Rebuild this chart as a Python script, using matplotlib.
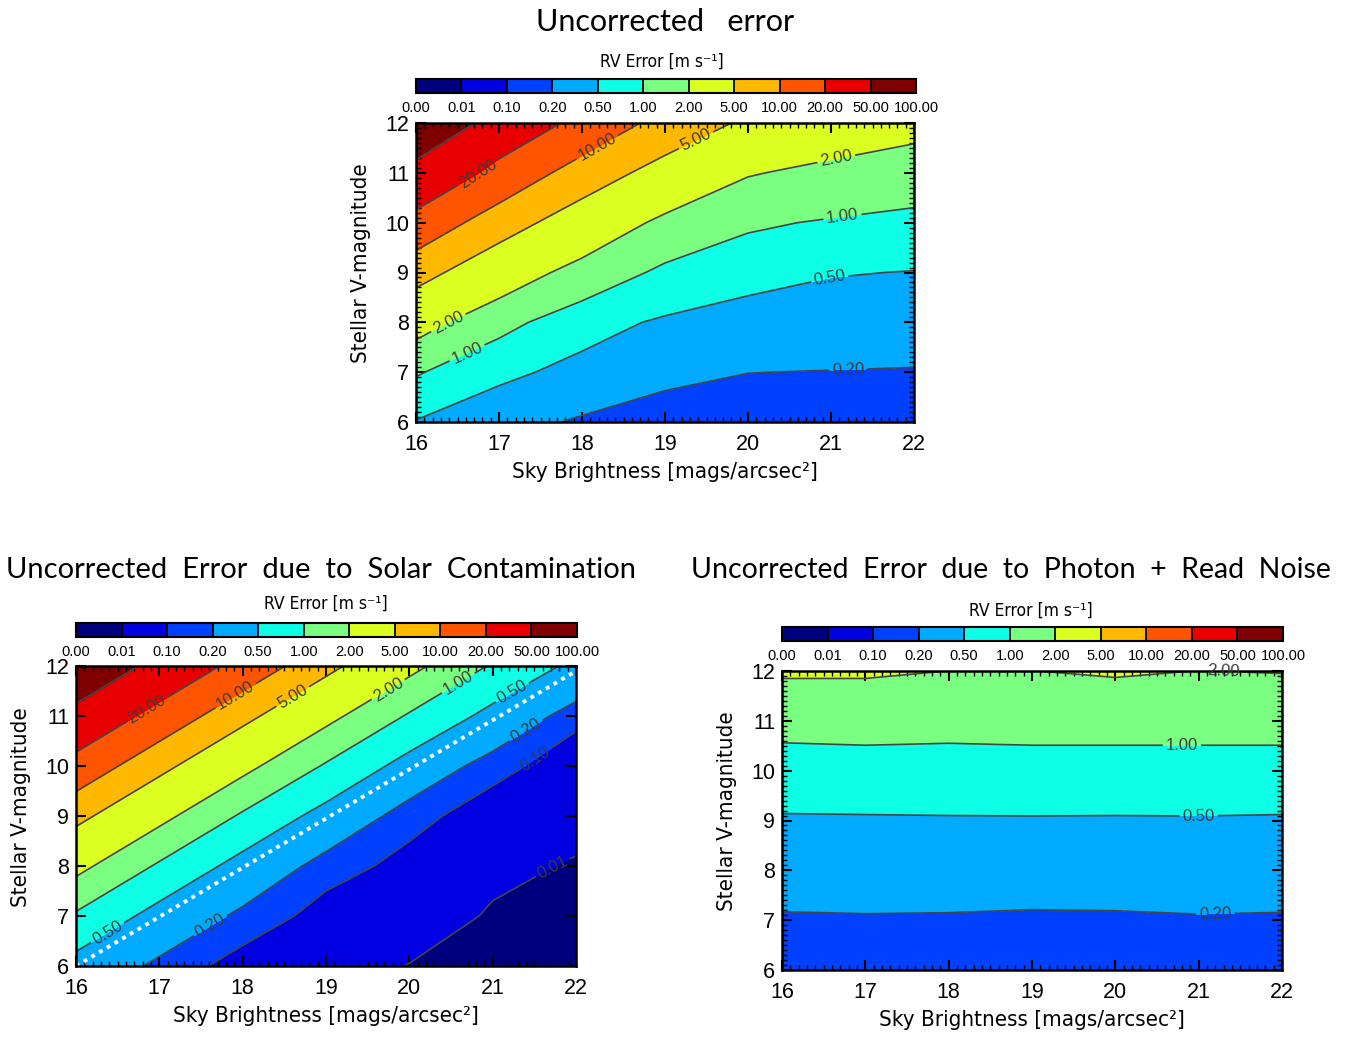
import matplotlib
matplotlib.use('Agg')
import matplotlib.pyplot as plt
from matplotlib.ticker import MultipleLocator

W, H = 1346, 1040

sky = [16, 17, 18, 19, 20, 21, 22]
vmag = [6, 7, 8, 9, 10, 11, 12]

# lignes = magnitude V 6..12, colonnes = fond de ciel 16..22
err_total = [
    [0.477, 0.29, 0.17, 0.115, 0.113, 0.12, 0.117],
    [1.052, 0.578, 0.40, 0.25, 0.202, 0.195, 0.189],
    [2.51, 1.199, 0.638, 0.447, 0.363, 0.318, 0.304],
    [6.12, 2.868, 1.48, 0.853, 0.62, 0.521, 0.488],
    [14.94, 6.48, 3.273, 1.625, 1.10, 0.932, 0.81],
    [34.4, 15.51, 6.871, 3.71, 2.08, 1.70, 1.441],
    [94.4, 31.5, 16.07, 7.4, 4.4, 2.85, 2.4],
]

err_solar = [
    [0.349, 0.165, 0.055, 0.024, 0.009, 0.0026, 0.0012],
    [0.871, 0.349, 0.165, 0.06, 0.028, 0.0065, 0.0029],
    [2.30, 0.871, 0.349, 0.14, 0.071, 0.018, 0.00725],
    [5.72, 2.30, 0.871, 0.349, 0.13, 0.0547, 0.021],
    [14.45, 5.72, 2.30, 0.9, 0.34, 0.13, 0.053],
    [34.6, 14.45, 5.72, 2.3, 0.9, 0.37, 0.121],
    [96.2, 34.6, 14.45, 5.72, 2.3, 0.9, 0.394],
]

err_photon = [
    [0.12, 0.118, 0.121, 0.119, 0.12, 0.122, 0.12],
    [0.1775, 0.1836, 0.1806, 0.1708, 0.1742, 0.185, 0.1794],
    [0.31, 0.31, 0.31, 0.31, 0.31, 0.31, 0.31],
    [0.454, 0.462, 0.469, 0.472, 0.469, 0.472, 0.462],
    [0.78, 0.78, 0.78, 0.78, 0.78, 0.78, 0.78],
    [1.173, 1.211, 1.18, 1.211, 1.211, 1.211, 1.211],
    [2.146, 2.139, 1.995, 1.99, 2.118, 1.99, 2.042],
]

# ligne pointillee blanche du panneau "solar"
ref_sky = [16, 22]
ref_vmag = [6.0, 11.9]

levels = [0.0, 0.01, 0.1, 0.2, 0.5, 1.0, 2.0, 5.0, 10.0, 20.0, 50.0, 100.0]
colors = ['#00007F', '#0000E0', '#0040FF', '#00AAFF', '#0DFFE6', '#7AFF80',
          '#DAFF20', '#FFB800', '#FF5500', '#E80000', '#7F0000']
line_levels = levels[1:-1]

NARROW = dict(family=['DejaVu Sans'], fontstretch='condensed')
TITLE = ['Lato', 'DejaVu Sans']
plt.rcParams['font.family'] = ['Liberation Sans', 'DejaVu Sans']


def px_rect(left, top, right, bottom):
    return [left / W, 1 - bottom / H, (right - left) / W, (bottom - top) / H]


def panneau(fig, ax_px, cb_px, z, titre, titre_xy, titre_size, rv_xy, labels,
            minor_y=True):
    ax = fig.add_axes(px_rect(*ax_px))
    cf = ax.contourf(sky, vmag, z, levels=levels, colors=colors)
    cs = ax.contour(sky, vmag, z, levels=line_levels, colors='#454545', linewidths=1.2)
    txts = ax.clabel(cs, fmt='%.2f', manual=labels, inline=True, fontsize=12,
                     colors='#3c3c3c', inline_spacing=3)
    for t in txts:
        t.set_clip_on(False)

    ax.set_xlim(16, 22)
    ax.set_ylim(6, 12)
    ax.xaxis.set_major_locator(MultipleLocator(1))
    ax.yaxis.set_major_locator(MultipleLocator(1))
    ax.xaxis.set_minor_locator(MultipleLocator(0.1))
    if minor_y:
        ax.yaxis.set_minor_locator(MultipleLocator(0.1))
    ax.tick_params(which='both', direction='in', top=True, right=True)
    ax.tick_params(which='major', length=7, width=1.5, labelsize=15.5)
    ax.tick_params(which='minor', length=3.5, width=1)
    ax.tick_params(axis='x', which='major', pad=9)
    ax.tick_params(axis='y', which='major', pad=5)
    for sp in ax.spines.values():
        sp.set_linewidth(1.8)
    ax.set_xlabel('Sky Brightness [mags/arcsec²]', fontsize=16, labelpad=5, **NARROW)
    ax.set_ylabel('Stellar V-magnitude', fontsize=16, labelpad=7, **NARROW)
    ax.yaxis.set_label_coords(-0.09, 0.53)

    cax = fig.add_axes(px_rect(*cb_px))
    cb = fig.colorbar(cf, cax=cax, orientation='horizontal', ticks=levels, drawedges=True)
    cb.ax.set_xticklabels(['%.2f' % v for v in levels])
    cb.ax.tick_params(length=0, pad=6, labelsize=10.5)
    cb.outline.set_linewidth(1.5)
    cb.dividers.set_linewidth(1.3)
    cb.dividers.set_color('black')

    fig.text(titre_xy[0] / W, 1 - titre_xy[1] / H, titre, family=TITLE,
             fontsize=titre_size, ha='center', va='center')
    fig.text(rv_xy[0] / W, 1 - rv_xy[1] / H, 'RV Error [m s⁻¹]',
             fontsize=12.5, ha='center', va='center', **NARROW)
    return ax


fig = plt.figure(figsize=(W / 100, H / 100), dpi=100)

panneau(fig, (416, 123, 914, 422), (416, 79, 916, 93), err_total,
        'Uncorrected   error', (665, 22), 22, (662, 62),
        [(16.73, 11.03), (18.18, 11.53), (19.34, 11.77), (16.37, 8.05),
         (16.59, 7.48), (21.05, 11.4), (21.13, 10.23), (20.97, 8.99), (21.21, 7.11)])

ax2 = panneau(fig, (76, 666, 576, 966), (76, 623, 577, 637), err_solar,
              'Uncorrected  Error  due  to  Solar  Contamination', (321, 570), 21,
              (326, 604),
              [(16.85, 11.12), (17.9, 11.45), (18.58, 11.45), (16.37, 6.69),
               (17.57, 6.92), (19.74, 11.55), (20.59, 11.65), (21.23, 11.49),
               (21.37, 10.79), (21.51, 10.15), (21.75, 7.89)], minor_y=False)
ax2.plot(ref_sky, ref_vmag, color='white', linestyle=(0, (1, 1.3)), linewidth=2.8)

panneau(fig, (782, 671, 1282, 970), (782, 627, 1283, 641), err_photon,
        'Uncorrected  Error  due  to  Photon  +  Read  Noise', (1011, 570), 20.5,
        (1031, 611),
        [(21.3, 11.99), (20.8, 10.5), (21.0, 9.1), (21.2, 7.14)])

fig.savefig('out.png', dpi=100)
